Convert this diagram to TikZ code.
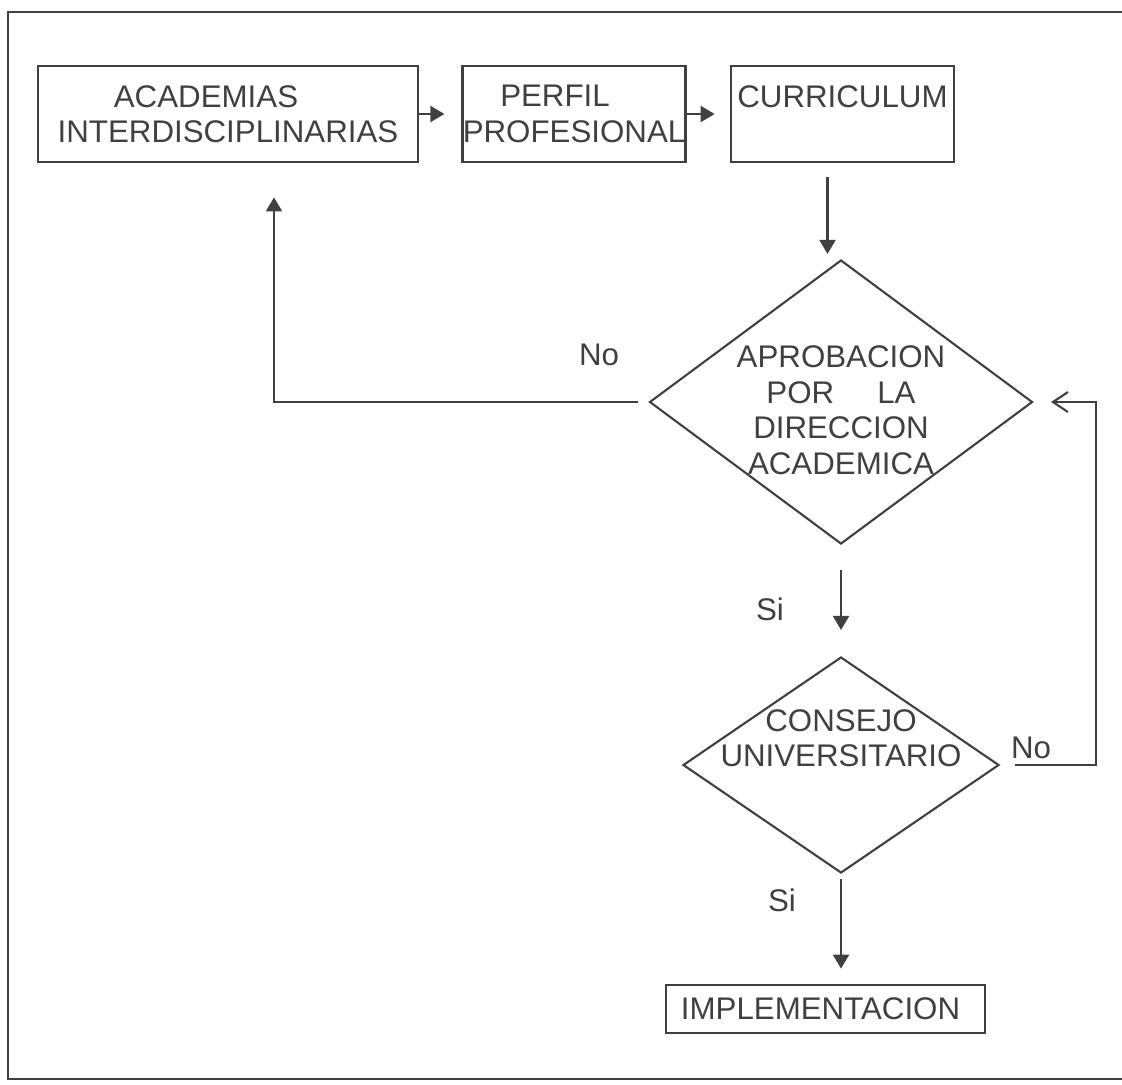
\documentclass[tikz,border=0pt]{standalone}
\usepackage{fontspec}
\setmainfont{Liberation Sans}
\usepackage{tikz}
\usetikzlibrary{shapes.geometric,arrows.meta}

\tikzset{
  ink/.style={color=black!75},
  letra/.style={font=\fontsize{17.8}{20.2}\selectfont},
  caja/.style={draw, ink, letra, line width=1.6pt, inner sep=0pt, align=center},
  rombo/.style={draw, ink, diamond, line width=1.2pt, inner sep=0pt},
  texto/.style={ink, letra, align=center, inner sep=0pt},
  flecha/.style={ink, line width=1.2pt, -{Triangle[length=0.28cm,width=0.32cm]}},
  regreso/.style={ink, line width=1.2pt, -{Straight Barb[length=0.3cm,width=0.4cm]}}
}

\begin{document}
\begin{tikzpicture}

    \useasboundingbox (0,0) rectangle (22.44,-21.68);

    \draw[ink, line width=1.4pt] (0.16,-0.24) rectangle (22.6,-21.58);

    \node[caja, minimum width=7.6cm, minimum height=1.92cm] (acad) at (4.56,-2.28)
      {ACADEMIAS\hspace*{0.88cm}\\INTERDISCIPLINARIAS};

    \node[caja, minimum width=4.4cm, minimum height=1.92cm] (perfil) at (11.48,-2.28)
      {PERFIL\hspace*{0.76cm}\\PROFESIONAL};

    \node[caja, minimum width=4.46cm, minimum height=1.92cm] (curr) at (16.85,-2.28)
      {CURRICULUM\\ \mbox{}};

    \node[rombo, minimum width=7.66cm, minimum height=5.68cm,
      label={[texto, yshift=-0.16cm]center:APROBACION\\POR\hspace{0.86cm}LA\\DIRECCION\\ACADEMICA}]
      (dia1) at (16.82,-8.04) {};

    \node[rombo, minimum width=6.32cm, minimum height=4.32cm,
      label={[texto, yshift=0.54cm]center:CONSEJO\\UNIVERSITARIO}]
      (dia2) at (16.82,-15.3) {};

    \node[caja, minimum width=6.38cm, minimum height=0.96cm] (impl) at (16.51,-20.18)
      {IMPLEMENTACION\hspace*{0.2cm}};

    \node[texto] (no1) at (11.98,-7.1) {No};
    \node[texto] (si1) at (15.4,-12.18) {Si};
    \node[texto] (no2) at (20.62,-14.96) {No};
    \node[texto] (si2) at (15.64,-18.0) {Si};

    \coordinate (back) at (21.92,-8.04);



    \draw[flecha, shorten >=0.34cm] (acad) -- (perfil);

    \draw[flecha, shorten >=0.3cm] (perfil) -- (curr);

    \draw[flecha, shorten <=0.28cm, shorten >=0.1cm]
      ([xshift=-0.3cm]curr.south) -- ([xshift=-0.3cm]curr.south |- dia1.north);

    \draw[flecha, shorten <=0.2cm, shorten >=0.68cm]
      (dia1.west) -| ([xshift=0.92cm]acad.south);

    \draw[flecha, shorten <=0.5cm, shorten >=0.52cm] (dia1.south) -- (dia2.north);

    \draw[regreso, shorten <=0.3cm, shorten >=0.35cm]
      (dia2.east) -| (back) -- (dia1.east);

    \draw[flecha, shorten <=0.1cm, shorten >=0.3cm]
      (dia2.south) -- (dia2.south |- impl.north);

  \end{tikzpicture}
\end{document}
